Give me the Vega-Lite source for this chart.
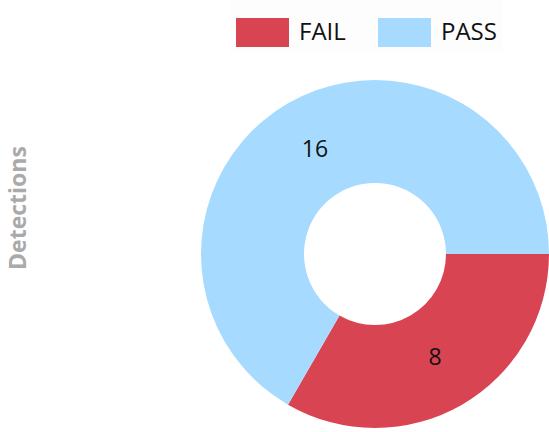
{
  "$schema": "https://vega.github.io/schema/vega-lite/v6.json",
  "width": 348,
  "height": 348,
  "autosize": {"type": "none"},
  "padding": {"left": 201, "top": 80, "right": 0, "bottom": 4},
  "background": "white",
  "title": {
    "text": "Detections",
    "orient": "left",
    "anchor": "middle",
    "offset": 170,
    "dx": 46,
    "font": "Open Sans",
    "fontSize": 23,
    "fontWeight": "bold",
    "color": "#aaaaaa"
  },
  "data": {
    "values": [
      {"category": "FAIL", "count": 8},
      {"category": "PASS", "count": 16}
    ]
  },
  "encoding": {
    "theta": {"field": "count", "type": "quantitative", "stack": true, "scale": {"range": [1.5708, 7.8540]}},
    "order": {"field": "category", "sort": "ascending"}
  },
  "layer": [
    {
      "mark": {"type": "arc", "innerRadius": 71, "outerRadius": 174},
      "encoding": {
        "color": {
          "field": "category",
          "type": "nominal",
          "scale": {"domain": ["FAIL", "PASS"], "range": ["#d94452", "#a6daff"]},
          "legend": {
            "orient": "none",
            "legendX": 29,
            "legendY": -80,
            "direction": "horizontal",
            "title": null,
            "symbolType": "M-1,-0.547H1V0.547H-1Z",
            "symbolSize": 2809,
            "symbolStrokeWidth": 0,
            "symbolOpacity": 1,
            "labelFont": "Open Sans",
            "labelFontSize": 24,
            "labelColor": "#111111",
            "labelOffset": 10,
            "columnPadding": 23,
            "gridAlign": "all",
            "padding": 6,
            "fillColor": "#fdfdfd",
            "strokeColor": null
          }
        }
      }
    },
    {
      "mark": {"type": "text", "radius": 120, "font": "Open Sans", "fontSize": 23, "color": "#111111"},
      "encoding": {
        "text": {"field": "count", "type": "quantitative"}
      }
    }
  ]
}
